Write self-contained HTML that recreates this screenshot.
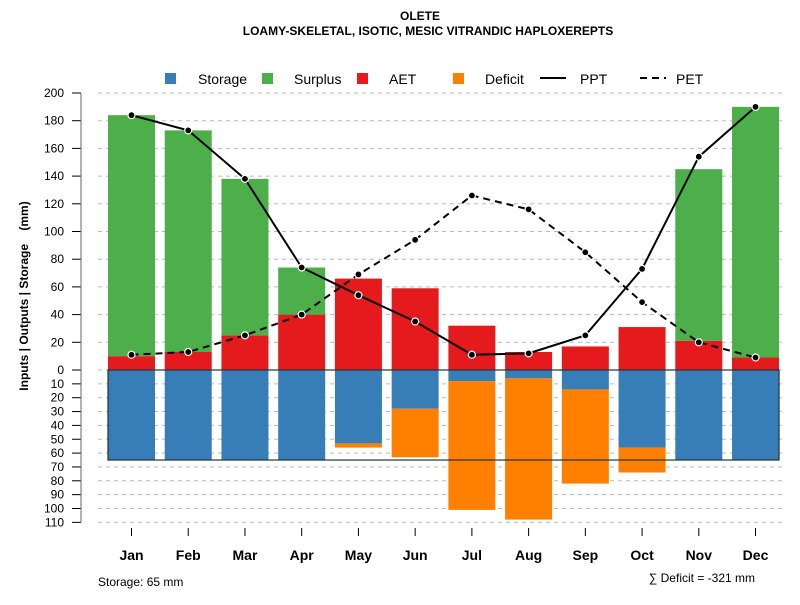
<!DOCTYPE html>
<html><head><meta charset="utf-8"><style>
body{margin:0;background:#fff}
svg{font-family:"Liberation Sans",Arial,sans-serif}
</style></head><body>
<svg id="c" width="800" height="600" viewBox="0 0 800 600">
<text x="420" y="20" text-anchor="middle" font-size="12" font-weight="bold">OLETE</text>
<text x="428" y="35" text-anchor="middle" font-size="12" font-weight="bold">LOAMY-SKELETAL, ISOTIC, MESIC VITRANDIC HAPLOXEREPTS</text>
<g id="grid"></g><g id="bars"></g><g id="lines"></g><g id="axes"></g>
<g font-size="14">
<rect x="165" y="73" width="11" height="11" fill="#377EB8"/><text x="198" y="84">Storage</text>
<rect x="262" y="73" width="11" height="11" fill="#4DAF4A"/><text x="294" y="84">Surplus</text>
<rect x="357" y="73" width="11" height="11" fill="#E41A1C"/><text x="389" y="84">AET</text>
<rect x="453" y="73" width="11" height="11" fill="#FF7F00"/><text x="485" y="84">Deficit</text>
<line x1="540" y1="78" x2="566" y2="78" stroke="#000" stroke-width="2"/><text x="580" y="84">PPT</text>
<line x1="640" y1="78" x2="666" y2="78" stroke="#000" stroke-width="2" stroke-dasharray="7,5"/><text x="676" y="84">PET</text>
</g>
<text x="28" y="296" transform="rotate(-90 28 296)" text-anchor="middle" font-size="12" font-weight="bold">Inputs | Outputs | Storage&#160;&#160;&#160;&#160;(mm)</text>
<text x="98" y="586" font-size="12">Storage: 65 mm</text>
<text x="755" y="582" text-anchor="end" font-size="12">∑ Deficit = -321 mm</text>
</svg>
<script>
const months=["Jan","Feb","Mar","Apr","May","Jun","Jul","Aug","Sep","Oct","Nov","Dec"];
const aet=[10,13,25,40,66,59,32,13,17,31,21,9];
const surplus=[174,160,113,34,0,0,0,0,0,0,124,181];
const storage=[65,65,65,65,53,28,8,6,14,56,65,65];
const deficit=[0,0,0,0,3,35,93,102,68,18,0,0];
const ppt=[184,173,138,74,54,35,11,12,25,73,154,190];
const pet=[11,13,25,40,69,94,126,116,85,49,20,9];
const posTicks=[0,20,40,60,80,100,120,140,160,180,200];
const negTicks=[10,20,30,40,50,60,70,80,90,100,110];
const awc=65;
const NS="http://www.w3.org/2000/svg";
const y0=370,k=1.385;
const Y=v=>y0-v*k;
const X=i=>131.5+i*56.73;
const bw=47;
function mk(p,t,a){const e=document.createElementNS(NS,t);for(const q in a)e.setAttribute(q,a[q]);document.getElementById(p).appendChild(e);return e;}
posTicks.forEach(v=>{
 const g=mk("grid","line",{x1:98,x2:785,y1:Y(v),y2:Y(v),stroke:"#bbb","stroke-dasharray":"4,4"});
 
 
 const t=mk("axes","line",{x1:72,x2:81,y1:Y(v),y2:Y(v),stroke:"#000"});
 
 
 const l=mk("axes","text",{x:64,y:Y(v)+4,"text-anchor":"end","font-size":12});l.textContent=v;
 
 
});
negTicks.forEach(v=>{
 const g=mk("grid","line",{x1:98,x2:785,y1:Y(-v),y2:Y(-v),stroke:"#bbb","stroke-dasharray":"4,4"});
 
 
 const t=mk("axes","line",{x1:72,x2:81,y1:Y(-v),y2:Y(-v),stroke:"#000"});
 
 
 const l=mk("axes","text",{x:64,y:Y(-v)+4,"text-anchor":"end","font-size":12});l.textContent=v;
 
 
});
const ax=mk("axes","line",{x1:81,x2:81,y1:Y(200),y2:Y(-110),stroke:"#666","stroke-width":1});


months.forEach((m,i)=>{
 const x=X(i)-bw/2;
 let r=mk("bars","rect",{x:x,y:Y(aet[i]),width:bw,height:aet[i]*k,fill:"#E41A1C"});
 
 
 if(surplus[i]>0){r=mk("bars","rect",{x:x,y:Y(aet[i]+surplus[i]),width:bw,height:surplus[i]*k,fill:"#4DAF4A"});
 
 }
 r=mk("bars","rect",{x:x,y:y0,width:bw,height:storage[i]*k,fill:"#377EB8"});
 
 
 if(deficit[i]>0){r=mk("bars","rect",{x:x,y:Y(-storage[i]),width:bw,height:deficit[i]*k,fill:"#FF7F00"});
 
 }
 const t=mk("axes","line",{x1:X(i),x2:X(i),y1:528,y2:536,stroke:"#000"});
 
 
 const l=mk("axes","text",{x:X(i),y:560,"text-anchor":"middle","font-size":14,"font-weight":"bold"});l.textContent=m;
 
 
});
const box=mk("bars","rect",{x:X(0)-bw/2,y:y0,width:X(11)-X(0)+bw,height:awc*k,fill:"none",stroke:"#233","stroke-width":1.2});


function series(arr,name,dash){
 const p=mk("lines","polyline",{points:arr.map((v,i)=>X(i)+","+Y(v)).join(" "),fill:"none",stroke:"#000","stroke-width":2});
 if(dash)p.setAttribute("stroke-dasharray","7,5");
 
 
 arr.forEach((v,i)=>{
  const c=mk("lines","circle",{cx:X(i),cy:Y(v),r:3.5,fill:"#000",stroke:"#fff","stroke-width":1.2});
  
  
 });
}
series(pet,"pet",true);
series(ppt,"ppt",false);
</script>
</body></html>
